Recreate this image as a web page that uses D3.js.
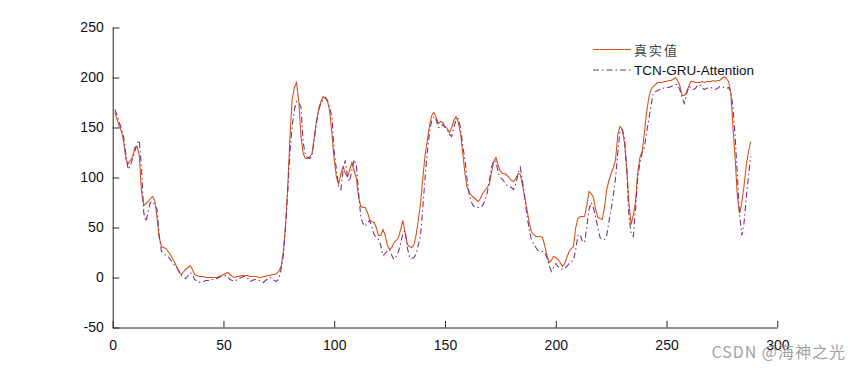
<!DOCTYPE html>
<html>
<head>
<meta charset="utf-8">
<script src="https://cdn.jsdelivr.net/npm/d3@7"></script>
<style>
	body { margin: 0; background: #fff; }
	svg { display: block; }
</style>
</head>
<body>
<div id="chart"></div>
<script>
//--data
var series_names = ["真实值", "TCN-GRU-Attention"];
var x_ticks = [0, 50, 100, 150, 200, 250, 300];
var y_ticks = [-50, 0, 50, 100, 150, 200, 250];

//真实值 (x = 1..288)
var true_vals = [
	165, 158, 151, 146, 135, 118, 114, 117, 121, 130,
	131, 122, 86, 72, 74, 76, 79, 81, 77, 60,
	40, 31, 30, 29, 26, 23, 19, 15, 10, 5,
	3, 6, 8, 10, 12, 8, 3, 2, 1, 1,
	1, 0, 0, 0, 0, 0, 0, 1, 2, 3,
	4, 5, 3, 1, 0, 1, 1, 2, 2, 2,
	2, 1, 1, 1, 1, 0, 0, 1, 1, 2,
	2, 3, 3, 4, 6, 11, 25, 51, 90, 140,
	178, 190, 195, 176, 141, 124, 119, 119, 121, 124,
	140, 157, 168, 176, 181, 179, 176, 166, 142, 118,
	100, 93, 104, 111, 104, 101, 108, 115, 107, 99,
	80, 71, 70, 70, 65, 58, 56, 55, 50, 42,
	42, 48, 42, 32, 28, 30, 35, 37, 40, 48,
	57, 45, 33, 31, 30, 33, 43, 58, 75, 100,
	122, 137, 152, 162, 165, 160, 154, 156, 155, 151,
	149, 145, 150, 157, 161, 155, 144, 125, 104, 90,
	85, 82, 80, 78, 76, 79, 84, 87, 90, 93,
	105, 116, 120, 112, 106, 104, 104, 102, 100, 97,
	96, 99, 104, 103, 92, 80, 68, 55, 46, 43,
	41, 41, 41, 40, 32, 22, 15, 17, 21, 20,
	18, 15, 11, 14, 20, 26, 29, 31, 50, 59,
	61, 61, 61, 72, 86, 84, 80, 68, 60, 59,
	58, 70, 88, 97, 104, 110, 118, 143, 151, 148,
	135, 110, 75, 53, 62, 76, 105, 120, 126, 145,
	165, 180, 188, 191, 193, 195, 195, 195, 196, 196,
	197, 197, 198, 200, 197, 192, 182, 182, 185, 191,
	196, 196, 195, 195, 195, 196, 195, 196, 196, 196,
	197, 196, 197, 197, 199, 201, 199, 196, 185, 150,
	118, 80, 64, 75, 92, 112, 126, 136
];

//TCN-GRU-Attention (x = 1..288)
var pred_vals = [
	168, 162, 155, 148, 140, 122, 108, 112, 119, 126,
	134, 137, 110, 65, 56, 66, 75, 76, 73, 68,
	42, 26, 24, 22, 21, 18, 15, 12, 10, 6,
	2, 0, -1, 2, 5, 3, -2, -4, -5, -4,
	-4, -3, -3, -3, -2, -2, -1, 0, 1, 1,
	2, 0, -2, -3, -4, -2, -1, 0, 1, 1,
	-1, -4, -3, -2, -2, -3, -4, -5, -3, -1,
	0, -1, -3, -4, -1, 8, 22, 50, 85, 125,
	151, 168, 176, 175, 170, 135, 122, 120, 119, 122,
	138, 155, 168, 175, 178, 180, 177, 169, 160, 125,
	108, 90, 88, 108, 117, 100, 96, 108, 118, 112,
	85, 60, 54, 51, 55, 57, 50, 43, 40, 38,
	32, 22, 24, 27, 28, 22, 18, 21, 26, 34,
	44, 47, 30, 20, 19, 20, 24, 33, 43, 70,
	100, 125, 145, 157, 161, 158, 150, 150, 153, 150,
	148, 143, 141, 150, 158, 159, 150, 132, 118, 98,
	82, 75, 71, 71, 70, 70, 72, 77, 84, 96,
	110, 117, 116, 105, 100, 98, 95, 92, 91, 90,
	88, 94, 104, 110, 96, 80, 62, 48, 38, 34,
	30, 27, 26, 26, 25, 20, 12, 6, 10, 14,
	11, 9, 8, 9, 11, 14, 16, 17, 28, 42,
	43, 36, 35, 50, 68, 75, 70, 60, 50, 40,
	38, 38, 42, 56, 68, 82, 100, 125, 147, 148,
	141, 110, 62, 44, 41, 68, 100, 115, 125, 130,
	145, 158, 172, 184, 186, 187, 188, 188, 190, 190,
	190, 191, 192, 193, 193, 188, 180, 174, 183, 191,
	190, 188, 189, 192, 193, 190, 188, 189, 190, 190,
	189, 188, 189, 191, 191, 190, 189, 190, 186, 170,
	140, 101, 62, 42, 55, 80, 102, 121
];
//END - data

var width = 860, height = 370;
var axis_color = "#262626";
var line_colors = ["#D95319", "#7E2F8E"];

var svg = d3.select("#chart").append("svg")
	.attr("width", width)
	.attr("height", height);

//scales
var x = d3.scaleLinear().domain([0, 300]).range([112.7, 777.3]);
var y = d3.scaleLinear().domain([-50, 250]).range([327.5, 27.5]);

//plain hyphen for negatives, like matlab
var fmt = function (d) { return String(d); };

//--axes (matlab style, ticks inward, no box)
var xAxis = svg.append("g")
	.attr("transform", "translate(0," + y(-50) + ")")
	.call(d3.axisBottom(x).tickValues(x_ticks).tickFormat(fmt).tickSizeInner(-6.6).tickSizeOuter(0).tickPadding(13));

var yAxis = svg.append("g")
	.attr("transform", "translate(" + x(0) + ",0)")
	.call(d3.axisLeft(y).tickValues(y_ticks).tickFormat(fmt).tickSizeInner(-6.6).tickSizeOuter(0).tickPadding(9));

[xAxis, yAxis].forEach(function (ax) {
	ax.select(".domain").attr("stroke", axis_color).attr("stroke-width", 1);
	ax.selectAll(".tick line").attr("stroke", axis_color).attr("stroke-width", 1);
	ax.selectAll(".tick text")
		.attr("fill", "#111")
		.style("font-family", "'Liberation Sans', Arial, sans-serif")
		.style("font-size", "14px");
});
//END - axes

//--lines
var line = d3.line()
	.x(function (d, i) { return x(i + 1); })
	.y(function (d) { return y(d); });

svg.append("path")
	.datum(true_vals)
	.attr("d", line)
	.attr("fill", "none")
	.attr("stroke", line_colors[0])
	.attr("stroke-width", 1.1);

svg.append("path")
	.datum(pred_vals)
	.attr("d", line)
	.attr("fill", "none")
	.attr("stroke", line_colors[1])
	.attr("stroke-width", 1.1)
	.attr("stroke-dasharray", "6,3,1.5,3");
//END - lines

//--legend (no box)
var legend_rows = [49.5, 70];
series_names.forEach(function (name, i) {
	svg.append("line")
		.attr("x1", 593).attr("x2", 631)
		.attr("y1", legend_rows[i]).attr("y2", legend_rows[i])
		.attr("stroke", line_colors[i])
		.attr("stroke-width", 1.1)
		.attr("stroke-dasharray", i === 1 ? "6,3,1.5,3" : null);

	svg.append("text")
		.attr("x", 634)
		.attr("y", legend_rows[i] + 5)
		.attr("fill", i === 0 ? "#444" : "#111")
		.style("font-family", i === 0 ? "'Noto Sans CJK SC', sans-serif" : "'Liberation Sans', Arial, sans-serif")
		.style("font-size", i === 0 ? "13px" : "13.5px")
		.style("letter-spacing", i === 0 ? "2px" : null)
		.text(name);
});
//END - legend

//watermark (sits over the 300 label in the original)
svg.append("text")
	.attr("x", 846)
	.attr("y", 358)
	.attr("text-anchor", "end")
	.attr("fill", "#a3a3a3")
	.style("font-family", "'Noto Sans CJK SC', 'Liberation Sans', sans-serif")
	.style("font-size", "16px")
	.style("letter-spacing", "1px")
	.text("CSDN @海神之光");
</script>
</body>
</html>
